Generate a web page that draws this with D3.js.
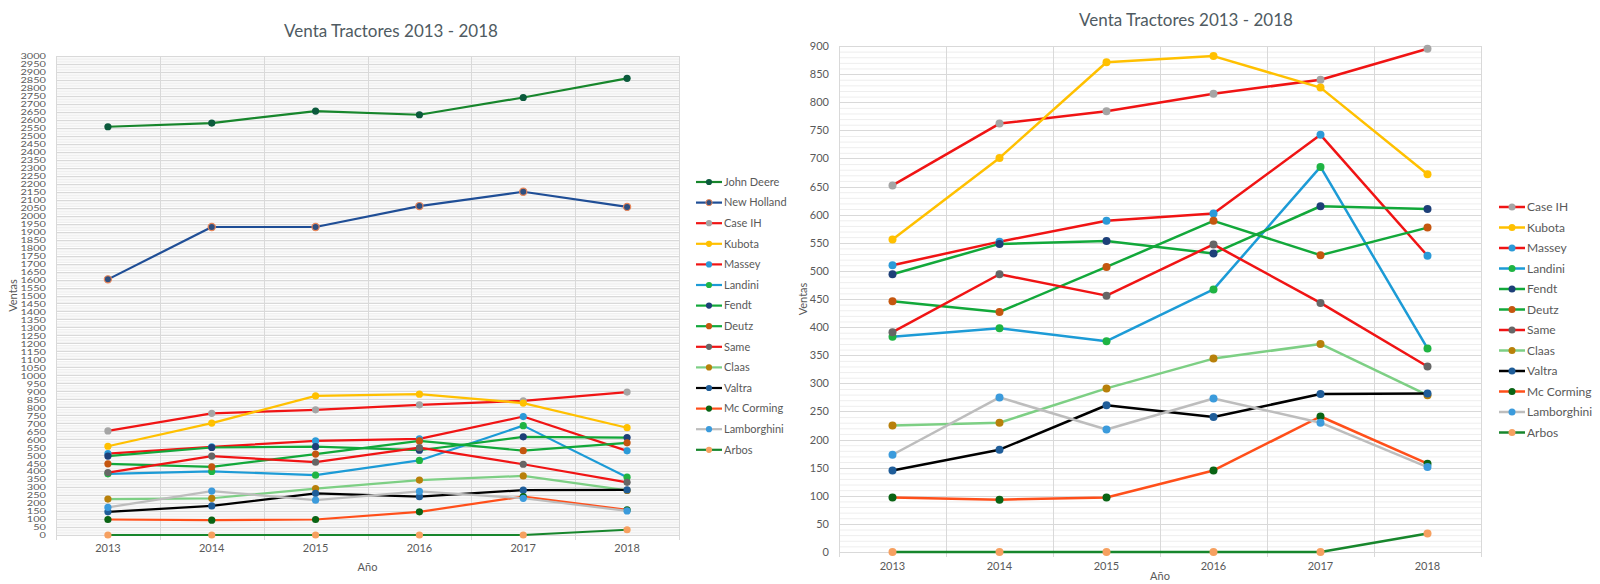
<!DOCTYPE html>
<html lang="es">
<head>
<meta charset="UTF-8">
<title>Venta Tractores 2013 - 2018</title>
<script src="https://d3js.org/d3.v7.min.js"></script>
<style>
  body { margin: 0; background: #fff; }
  svg { display: block; font-family: Lato, "Noto Sans", sans-serif; }
  .tick text { fill: #595959; }
</style>
</head>
<body>
<svg width="1600" height="584"></svg>
<script>
// data
const years = ["2013", "2014", "2015", "2016", "2017", "2018"];

const johnDeere   = [2557, 2580, 2655, 2632, 2740, 2860];
const newHolland  = [1601, 1929, 1929, 2060, 2150, 2055];
const caseIH      = [652, 762, 784, 815, 840, 895];
const kubota      = [556, 701, 871, 882, 826, 672];
const massey      = [510, 552, 589, 602, 742, 527];
const landini     = [383, 398, 375, 467, 685, 362];
const fendt       = [494, 548, 553, 531, 615, 610];
const deutz       = [446, 427, 507, 589, 528, 577];
const same        = [391, 494, 456, 547, 443, 330];
const claas       = [225, 230, 291, 344, 370, 279];
const valtra      = [145, 182, 261, 240, 281, 282];
const mcCorming   = [97, 93, 97, 145, 241, 157];
const lamborghini = [173, 275, 218, 273, 230, 151];
const arbos       = [0, 0, 0, 0, 0, 33];

// name, values, line colour, marker colour, marker outline
const allSeries = [
  ["John Deere", johnDeere, "#17862c", "#0b5a3c", null],
  ["New Holland", newHolland, "#1f4e96", "#2f4f80", "#e9875a"],
  ["Case IH", caseIH, "#f01414", "#a5a5a5", null],
  ["Kubota", kubota, "#ffc000", "#ffc000", null],
  ["Massey", massey, "#f01414", "#2b9ad8", null],
  ["Landini", landini, "#1c9bd6", "#1fb443", null],
  ["Fendt", fendt, "#12a83a", "#1d3f78", null],
  ["Deutz", deutz, "#12a83a", "#c5560f", null],
  ["Same", same, "#f01414", "#666666", null],
  ["Claas", claas, "#7dcf84", "#b8800a", null],
  ["Valtra", valtra, "#000000", "#1f5d99", null],
  ["Mc Corming", mcCorming, "#ff4f1a", "#0a6414", null],
  ["Lamborghini", lamborghini, "#bdbdbd", "#3b9bdc", null],
  ["Arbos", arbos, "#17862c", "#f6a060", null]
].map(d => ({ name: d[0], values: d[1], line: d[2], marker: d[3], ring: d[4] }));

const svg = d3.select("svg");

function drawChart(cfg) {
  const g = svg.append("g");
  const x = d3.scaleBand().domain(years).range([cfg.left, cfg.right]);
  const y = d3.scaleLinear().domain([0, cfg.max]).range([cfg.bottom, cfg.top]);
  const cx = d => x(d) + x.bandwidth() / 2;

  // minor gridlines
  g.append("g").selectAll("line")
    .data(d3.range(0, cfg.max + 1, 10).filter(v => v % 50 !== 0))
    .join("line")
    .attr("x1", cfg.left).attr("x2", cfg.right)
    .attr("y1", d => y(d) + 0.5).attr("y2", d => y(d) + 0.5)
    .attr("stroke", cfg.minorColor).attr("stroke-width", 1);

  // major gridlines
  g.append("g").selectAll("line")
    .data(d3.range(0, cfg.max + 1, 50))
    .join("line")
    .attr("x1", cfg.left).attr("x2", cfg.right)
    .attr("y1", d => Math.round(y(d)) + 0.5).attr("y2", d => Math.round(y(d)) + 0.5)
    .attr("stroke", "#d9d9d9").attr("stroke-width", 1);

  // vertical gridlines at category edges, running into small ticks
  const edges = years.map(d => x(d)).concat([cfg.right]);
  g.append("g").selectAll("line")
    .data(edges)
    .join("line")
    .attr("x1", d => Math.round(d) + 0.5).attr("x2", d => Math.round(d) + 0.5)
    .attr("y1", cfg.top).attr("y2", cfg.bottom + 5)
    .attr("stroke", "#d9d9d9").attr("stroke-width", 1);

  // y axis labels (no thousands separator, squeezed like the original when crowded)
  const yAxis = g.append("g")
    .attr("transform", `translate(${cfg.left - cfg.labelGap},0)`)
    .call(d3.axisLeft(y)
      .tickValues(d3.range(0, cfg.max + 1, 50))
      .tickFormat(d3.format("d"))
      .tickSize(0).tickPadding(0))
    .attr("font-family", null)
    .attr("font-size", cfg.tickFont);
  yAxis.select(".domain").remove();
  if (cfg.squeeze) {
    yAxis.selectAll(".tick text")
      .attr("transform", `scale(1,${cfg.squeeze})`)
      .attr("dy", "0.36em");
  }

  // x axis labels
  const xAxis = g.append("g")
    .attr("transform", `translate(0,${cfg.bottom})`)
    .call(d3.axisBottom(x).tickSize(0).tickPadding(cfg.xPad))
    .attr("font-family", null)
    .attr("font-size", cfg.tickFont);
  xAxis.select(".domain").remove();

  // titles
  g.append("text")
    .attr("x", cfg.titleX).attr("y", cfg.titleY)
    .attr("text-anchor", "middle")
    .attr("font-size", 17)
    .attr("fill", "#4f5b62")
    .text("Venta Tractores 2013 - 2018");

  g.append("text")
    .attr("transform", `translate(${cfg.ventasX},${(cfg.top + cfg.bottom) / 2}) rotate(-90)`)
    .attr("text-anchor", "middle")
    .attr("dy", "0.35em")
    .attr("font-size", cfg.tickFont)
    .attr("fill", "#595959")
    .text("Ventas");

  g.append("text")
    .attr("x", (cfg.left + cfg.right) / 2).attr("y", cfg.anoY)
    .attr("text-anchor", "middle")
    .attr("dy", "0.35em")
    .attr("font-size", cfg.tickFont)
    .attr("fill", "#595959")
    .text("Año");

  const line = d3.line()
    .x((d, i) => cx(years[i]))
    .y(d => y(d));

  const series = allSeries.filter(s => cfg.names.includes(s.name));

  series.forEach(s => {
    const sg = g.append("g");
    sg.append("path")
      .datum(s.values)
      .attr("d", line)
      .attr("fill", "none")
      .attr("stroke", s.line)
      .attr("stroke-width", cfg.lineW)
      .attr("stroke-linejoin", "round");
    sg.selectAll("circle")
      .data(s.values)
      .join("circle")
      .attr("cx", (d, i) => cx(years[i]))
      .attr("cy", d => y(d))
      .attr("r", cfg.markerR)
      .attr("fill", s.marker)
      .attr("stroke", s.ring || "none")
      .attr("stroke-width", s.ring ? 1.2 : 0);
  });

  // legend
  const lg = g.append("g").selectAll("g")
    .data(series)
    .join("g")
    .attr("transform", (d, i) => `translate(${cfg.legX},${cfg.legY + i * cfg.legStep})`);
  lg.append("line")
    .attr("x1", 0).attr("x2", 26)
    .attr("stroke", d => d.line).attr("stroke-width", cfg.lineW);
  lg.append("circle")
    .attr("cx", 13).attr("r", cfg.markerR - 0.5)
    .attr("fill", d => d.marker)
    .attr("stroke", d => d.ring || "none");
  lg.append("text")
    .attr("x", 28).attr("dy", "0.35em")
    .attr("font-size", cfg.legFont)
    .attr("fill", "#595959")
    .text(d => d.name);
}

// left chart: all brands
drawChart({
  names: allSeries.map(s => s.name),
  max: 3000,
  left: 56, right: 679, top: 56, bottom: 535,
  minorColor: "#efefef",
  labelGap: 10, tickFont: 11, xPad: 9, squeeze: 0.72,
  titleX: 391, titleY: 37,
  ventasX: 13, anoY: 567,
  lineW: 2.2, markerR: 3.6,
  legX: 696, legY: 182, legStep: 20.6, legFont: 11
});

// right chart: without John Deere and New Holland
drawChart({
  names: allSeries.map(s => s.name).filter(n => n !== "John Deere" && n !== "New Holland"),
  max: 900,
  left: 839, right: 1481, top: 46, bottom: 552,
  minorColor: "#eeeeee",
  labelGap: 10, tickFont: 11, xPad: 10, squeeze: null,
  titleX: 1186, titleY: 26,
  ventasX: 803, anoY: 576,
  lineW: 2.5, markerR: 4,
  legX: 1499, legY: 207, legStep: 20.5, legFont: 12
});
</script>
</body>
</html>
